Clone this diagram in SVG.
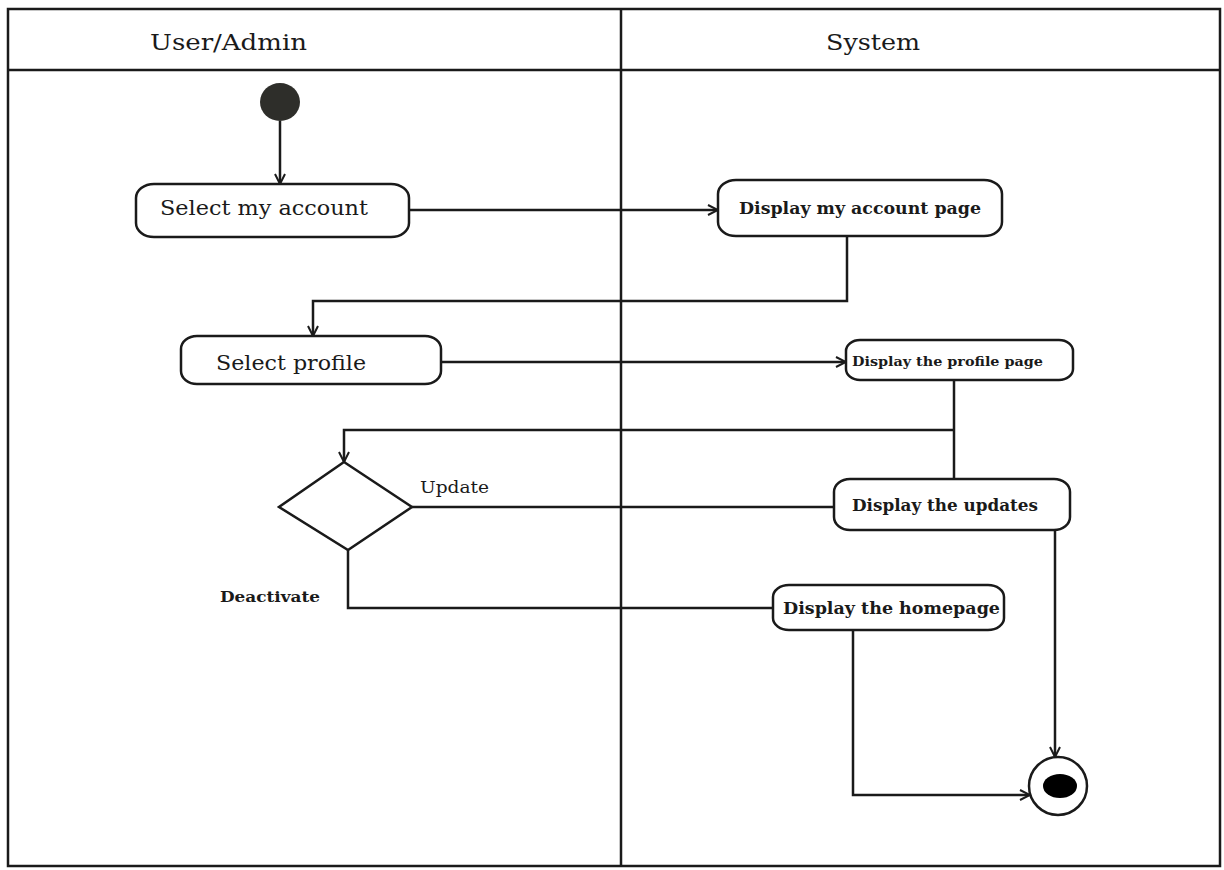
<svg xmlns="http://www.w3.org/2000/svg" width="1224" height="870" viewBox="0 0 1224 870">
<style>
.frame{fill:none;stroke:#1a1a1a;stroke-width:2.5}
.act{fill:#fff;stroke:#1a1a1a;stroke-width:2.5}
.ln{fill:none;stroke:#1a1a1a;stroke-width:2.5}
.t{font-family:"DejaVu Serif","Liberation Serif",serif;fill:#1a1a1a}
.hd{font-size:23px}
.b{font-weight:bold}
</style>
<defs>
<marker id="arr" viewBox="0 0 12 12" refX="11" refY="6" markerWidth="12" markerHeight="12" markerUnits="userSpaceOnUse" orient="auto">
<path d="M1,1 L11,6 L1,11" fill="none" stroke="#1a1a1a" stroke-width="2"/>
</marker>
</defs>
<rect width="1224" height="870" fill="#fff"/>
<g id="swimlanes">
<rect class="frame" x="8" y="9" width="1212" height="857"/>
<line class="frame" x1="8" y1="70" x2="1220" y2="70"/>
<line class="frame" x1="621" y1="9" x2="621" y2="866"/>
<text class="t hd" x="150" y="50" textLength="157" lengthAdjust="spacingAndGlyphs">User/Admin</text>
<text class="t hd" x="826" y="50" textLength="94" lengthAdjust="spacingAndGlyphs">System</text>
</g>
<g id="connectors">
<line class="ln" x1="280" y1="121" x2="280" y2="184" marker-end="url(#arr)"/>
<line class="ln" x1="409" y1="210" x2="718" y2="210" marker-end="url(#arr)"/>
<polyline class="ln" points="847,236 847,301 313,301 313,336" marker-end="url(#arr)"/>
<line class="ln" x1="441" y1="362" x2="846" y2="362" marker-end="url(#arr)"/>
<line class="ln" x1="954" y1="380" x2="954" y2="479"/>
<polyline class="ln" points="954,430 344,430 344,462" marker-end="url(#arr)"/>
<line class="ln" x1="412" y1="507" x2="834" y2="507"/>
<polyline class="ln" points="348,550 348,608 773,608"/>
<line class="ln" x1="1055" y1="530" x2="1055" y2="757" marker-end="url(#arr)"/>
<polyline class="ln" points="853,630 853,795 1030,795" marker-end="url(#arr)"/>
<text class="t" x="420" y="493" font-size="16" textLength="69" lengthAdjust="spacingAndGlyphs">Update</text>
<text class="t b" x="220" y="602" font-size="15" fill="#1a2340" textLength="100" lengthAdjust="spacingAndGlyphs">Deactivate</text>
</g>
<g id="start">
<ellipse cx="280" cy="102" rx="20" ry="19" fill="#2e2e2a"/>
</g>
<g id="select-my-account">
<rect class="act" x="136" y="184" width="273" height="53" rx="18" ry="14"/>
<text class="t" x="160" y="215" font-size="21" textLength="208" lengthAdjust="spacingAndGlyphs">Select my account</text>
</g>
<g id="display-my-account-page">
<rect class="act" x="718" y="180" width="284" height="56" rx="18" ry="14"/>
<text class="t b" x="739" y="214" font-size="16" textLength="242" lengthAdjust="spacingAndGlyphs">Display my account page</text>
</g>
<g id="select-profile">
<rect class="act" x="181" y="336" width="260" height="48" rx="16" ry="13"/>
<text class="t" x="216" y="370" font-size="21" textLength="150" lengthAdjust="spacingAndGlyphs">Select profile</text>
</g>
<g id="display-profile-page">
<rect class="act" x="846" y="340" width="227" height="40" rx="14" ry="11"/>
<text class="t b" x="852" y="366" font-size="12.5" textLength="191" lengthAdjust="spacingAndGlyphs">Display the profile page</text>
</g>
<g id="display-updates">
<rect class="act" x="834" y="479" width="236" height="51" rx="16" ry="13"/>
<text class="t b" x="852" y="511" font-size="17" textLength="186" lengthAdjust="spacingAndGlyphs">Display the updates</text>
</g>
<g id="display-homepage">
<rect class="act" x="773" y="585" width="231" height="45" rx="16" ry="12"/>
<text class="t b" x="783" y="614" font-size="16.5" textLength="217" lengthAdjust="spacingAndGlyphs">Display the homepage</text>
</g>
<g id="decision">
<polygon class="act" points="344,462 412,507 348,550 279,507"/>
</g>
<g id="end">
<circle cx="1058" cy="786" r="29" fill="#fff" stroke="#1a1a1a" stroke-width="2.5"/>
<ellipse cx="1060" cy="786" rx="17" ry="12" fill="#000"/>
</g>
</svg>
